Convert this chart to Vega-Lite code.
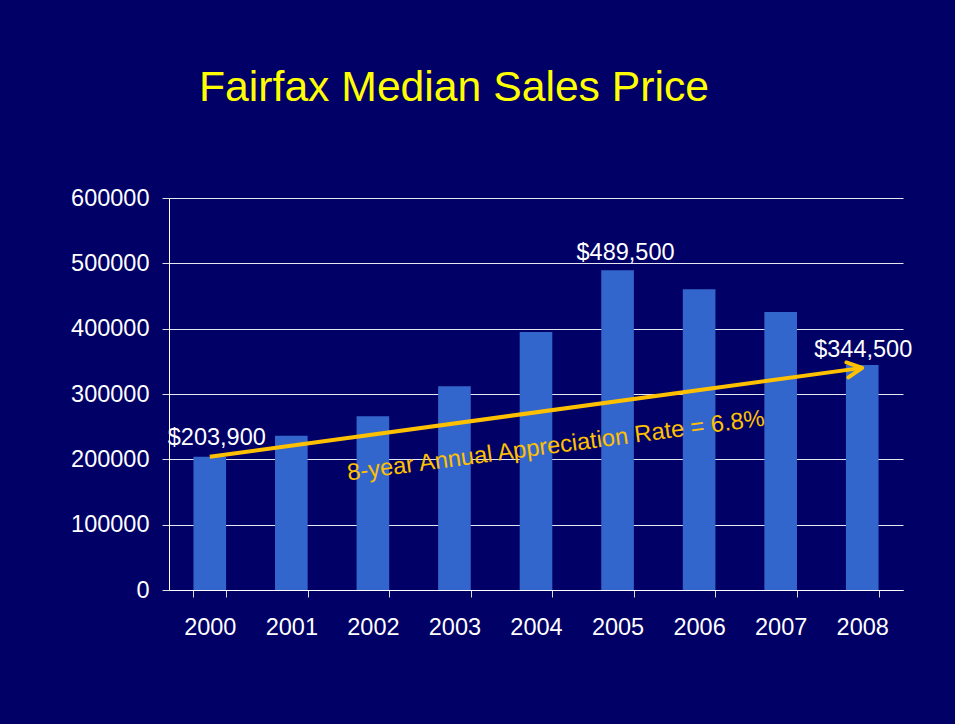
{
  "$schema": "https://vega.github.io/schema/vega-lite/v6.json",
  "width": 734,
  "height": 392,
  "autosize": {"type": "none"},
  "padding": {"left": 169, "top": 198, "right": 52, "bottom": 134},
  "background": "#000066",
  "title": {
    "text": "Fairfax Median Sales Price",
    "anchor": "start",
    "frame": "group",
    "dx": 30,
    "offset": 42,
    "baseline": "alphabetic",
    "font": "Liberation Sans",
    "fontSize": 42.7,
    "fontWeight": "normal",
    "color": "#FFFF00"
  },
  "config": {"view": {"stroke": null}, "font": "Liberation Sans"},
  "data": {
    "values": [
      {"year": "2000", "value": 203900, "label": "$203,900"},
      {"year": "2001", "value": 236000},
      {"year": "2002", "value": 266000},
      {"year": "2003", "value": 312000},
      {"year": "2004", "value": 395000},
      {"year": "2005", "value": 489500, "label": "$489,500"},
      {"year": "2006", "value": 460500},
      {"year": "2007", "value": 425500},
      {"year": "2008", "value": 344500, "label": "$344,500"}
    ]
  },
  "layer": [
    {
      "mark": {"type": "bar", "color": "#3366CC"},
      "encoding": {
        "x": {
          "field": "year",
          "type": "ordinal",
          "scale": {"paddingInner": 0.6, "paddingOuter": 0.3},
          "axis": {
            "title": null,
            "labelAngle": 0,
            "labelFont": "Liberation Sans",
            "labelFontSize": 23.5,
            "labelColor": "#FFFFFF",
            "labelPadding": 18,
            "tickBand": "extent",
            "tickSize": 7,
            "tickColor": "#DDDDDD",
            "domainColor": "#FFFFFF",
            "grid": false
          }
        },
        "y": {
          "field": "value",
          "type": "quantitative",
          "scale": {"domain": [0, 600000], "nice": false},
          "axis": {
            "title": null,
            "values": [0, 100000, 200000, 300000, 400000, 500000, 600000],
            "format": "d",
            "labelFont": "Liberation Sans",
            "labelFontSize": 23.5,
            "labelColor": "#FFFFFF",
            "labelPadding": 13,
            "tickSize": 7,
            "tickColor": "#DDDDDD",
            "domainColor": "#FFFFFF",
            "gridColor": "#FFFFFF",
            "gridOpacity": 0.9
          }
        }
      }
    },
    {
      "data": {"values": [{"year": "2000", "value": 203900}, {"year": "2008", "value": 340000}]},
      "mark": {"type": "line", "color": "#FFC000", "strokeWidth": 4, "strokeCap": "butt"},
      "encoding": {
        "x": {"field": "year", "type": "ordinal"},
        "y": {"field": "value", "type": "quantitative"}
      }
    },
    {
      "data": {"values": [{"year": "2008", "value": 340000}]},
      "mark": {"type": "point", "shape": "M-1,-0.5L0,0L-1,0.5", "filled": false, "stroke": "#FFC000", "strokeWidth": 4, "size": 900, "angle": 352.2, "opacity": 1, "strokeCap": "round", "strokeJoin": "round"},
      "encoding": {
        "x": {"field": "year", "type": "ordinal"},
        "y": {"field": "value", "type": "quantitative"}
      }
    },
    {
      "data": {"values": [{"note": "8-year Annual Appreciation Rate = 6.8%"}]},
      "mark": {"type": "text", "angle": 352.5, "align": "center", "baseline": "alphabetic", "dx": 21, "fontSize": 23.7, "font": "Liberation Sans", "fontWeight": "normal", "fill": "#FFC000"},
      "encoding": {
        "x": {"datum": "2004", "type": "ordinal"},
        "y": {"datum": 205600, "type": "quantitative"},
        "text": {"field": "note"}
      }
    },
    {
      "transform": [{"filter": "datum.year == '2000'"}],
      "mark": {"type": "text", "align": "center", "baseline": "alphabetic", "dx": 7, "dy": -12, "fontSize": 23.5, "font": "Liberation Sans", "fill": "#FFFFFF"},
      "encoding": {
        "x": {"field": "year", "type": "ordinal"},
        "y": {"field": "value", "type": "quantitative"},
        "text": {"field": "label"}
      }
    },
    {
      "transform": [{"filter": "datum.year == '2005'"}],
      "mark": {"type": "text", "align": "center", "baseline": "alphabetic", "dx": 8, "dy": -10, "fontSize": 23.5, "font": "Liberation Sans", "fill": "#FFFFFF"},
      "encoding": {
        "x": {"field": "year", "type": "ordinal"},
        "y": {"field": "value", "type": "quantitative"},
        "text": {"field": "label"}
      }
    },
    {
      "transform": [{"filter": "datum.year == '2008'"}],
      "mark": {"type": "text", "align": "center", "baseline": "alphabetic", "dx": 1, "dy": -8, "fontSize": 23.5, "font": "Liberation Sans", "fill": "#FFFFFF"},
      "encoding": {
        "x": {"field": "year", "type": "ordinal"},
        "y": {"field": "value", "type": "quantitative"},
        "text": {"field": "label"}
      }
    }
  ]
}
